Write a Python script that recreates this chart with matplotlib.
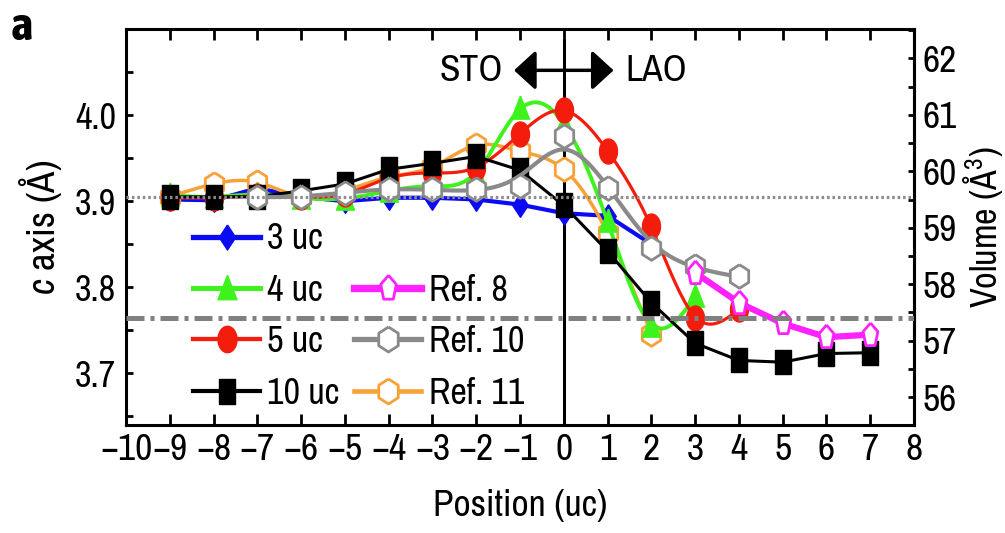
import numpy as np
import matplotlib
matplotlib.use('Agg')
import matplotlib.pyplot as plt
from matplotlib.lines import Line2D
from matplotlib.patches import FancyArrowPatch
from matplotlib.ticker import FormatStrFormatter

plt.rcParams['font.family'] = ['Archivo Narrow', 'Liberation Sans', 'DejaVu Sans']
plt.rcParams['mathtext.fontset'] = 'custom'
plt.rcParams['mathtext.rm'] = 'Archivo Narrow'
plt.rcParams['mathtext.it'] = 'Archivo Narrow:italic'

# c-axis lattice parameter (Angstrom) against position across the interface
x_3uc = [-9, -8, -7, -6, -5, -4, -3, -2, -1, 0, 1, 2]
c_3uc = [3.902, 3.901, 3.915, 3.905, 3.900, 3.904, 3.904, 3.902, 3.896, 3.886, 3.883, 3.850]

x_4uc = [-9, -8, -7, -6, -5, -4, -3, -2, -1, 0, 1, 2, 3]
c_4uc = [3.907, 3.905, 3.908, 3.904, 3.903, 3.912, 3.918, 3.932, 4.008, 3.990, 3.877, 3.755, 3.790]

x_5uc = [-9, -8, -7, -6, -5, -4, -3, -2, -1, 0, 1, 2, 3, 4]
c_5uc = [3.904, 3.904, 3.906, 3.905, 3.908, 3.927, 3.933, 3.939, 3.978, 4.006, 3.958, 3.871, 3.764, 3.775]

x_10uc = [-9, -8, -7, -6, -5, -4, -3, -2, -1, 0, 1, 2, 3, 4, 5, 6, 7]
c_10uc = [3.905, 3.905, 3.905, 3.912, 3.920, 3.937, 3.944, 3.952, 3.936, 3.895, 3.842, 3.782,
          3.735, 3.715, 3.713, 3.723, 3.724]

x_ref8 = [3, 4, 5, 6, 7]
c_ref8 = [3.817, 3.782, 3.758, 3.742, 3.745]

x_ref10 = [-7, -6, -5, -4, -3, -2, -1, 0, 1, 2, 3, 4]
c_ref10 = [3.905, 3.905, 3.910, 3.914, 3.914, 3.914, 3.918, 3.976, 3.915, 3.846, 3.825, 3.813]

x_ref11 = [-9, -8, -7, -6, -5, -4, -3, -2, -1, 0, 1, 2]
c_ref11 = [3.905, 3.920, 3.922, 3.905, 3.912, 3.928, 3.940, 3.965, 3.958, 3.937, 3.863, 3.746]

c_sto = 3.905      # bulk STO
c_lao = 3.764      # strained LAO
a_sub = 3.905      # in-plane lattice parameter for the volume axis


def fitted_curve(x, y, lam, step=0.05):
    # discrete smoothing spline (second-difference penalty) on a fine grid
    x = np.asarray(x, float)
    y = np.asarray(y, float)
    xs = np.arange(x[0], x[-1] + step / 2, step)
    n = len(xs)
    idx = np.rint((x - x[0]) / step).astype(int)
    w = np.zeros(n)
    w[idx] = 1.0
    wy = np.zeros(n)
    wy[idx] = y
    D = np.diff(np.eye(n), 2, axis=0) / step ** 2
    zs = np.linalg.solve(np.diag(w) + lam * step * D.T @ D, wy)
    return xs, zs


# markers are taller than wide
t = np.linspace(0, 2 * np.pi, 41)
m_circle = list(zip(0.72 * np.cos(t), np.sin(t)))
m_square = [(-0.66, -1), (0.66, -1), (0.66, 1), (-0.66, 1), (-0.66, -1)]
m_diamond = [(0, 1), (0.66, 0), (0, -1), (-0.66, 0), (0, 1)]
m_triangle = [(0, 1), (0.72, -0.85), (-0.72, -0.85), (0, 1)]
a6 = np.deg2rad(90 + 60 * np.arange(7))
m_hexagon = list(zip(0.9 * np.cos(a6), np.sin(a6)))
a5 = np.deg2rad(90 + 72 * np.arange(6))
m_pentagon = list(zip(0.62 * np.cos(a5), np.sin(a5)))

blue = '#0a0af5'
green = '#3ef21c'
red = '#f41c0c'
magenta = '#ff22ff'
gray = '#8a8a8a'
orange = '#f7a136'

fig = plt.figure(figsize=(10.05, 5.33), dpi=100)
ax = fig.add_axes([0.1254, 0.2026, 0.9095 - 0.1254, 0.9456 - 0.2026])

series = [
    # x, c, colour, lw, marker, size, face, smoothing (None = straight), zorder
    (x_3uc, c_3uc, blue, 3.0, m_diamond, 17, blue, None, 3),
    (x_ref11, c_ref11, orange, 2.5, m_hexagon, 17, 'white', 1e-5, 4),
    (x_4uc, c_4uc, green, 2.8, m_triangle, 18, green, 0.004, 5),
    (x_5uc, c_5uc, red, 2.3, m_circle, 18, red, 0.004, 6),
    (x_10uc, c_10uc, 'black', 2.2, m_square, 17, 'black', None, 7),
    (x_ref10, c_ref10, gray, 3.0, m_hexagon, 17, 'white', 0.06, 8),
    (x_ref8, c_ref8, magenta, 4.5, m_pentagon, 18, 'white', None, 9),
]
handles = []
for xv, cv, col, lw, mk, ms, face, lam, z in series:
    if lam is None:
        ax.plot(xv, cv, color=col, lw=lw, zorder=z)
    else:
        xs, cs = fitted_curve(xv, cv, lam)
        ax.plot(xs, cs, color=col, lw=lw, zorder=z)
    ew = 1.0 if face != 'white' else 2.0
    ax.plot(xv, cv, linestyle='none', marker=mk, markersize=ms, markerfacecolor=face,
            markeredgecolor=col, markeredgewidth=ew, zorder=z + 0.5)
    handles.append(Line2D([], [], color=col, lw=lw + 0.8, marker=mk, markersize=ms + 1,
                          markerfacecolor=face, markeredgecolor=col, markeredgewidth=ew))

h3, h11, h4, h5, h10, h10r, h8 = handles
blank = Line2D([], [], linestyle='none')
ax.legend([h3, h4, h5, h10, blank, h8, h10r, h11],
          ['3 uc', '4 uc', '5 uc', '10 uc', ' ', 'Ref. 8', 'Ref. 10', 'Ref. 11'],
          ncol=2, loc='upper left', bbox_to_anchor=(0.085, 0.512), frameon=False,
          fontsize=26, handlelength=1.86, handletextpad=0.2, columnspacing=0.4,
          labelspacing=0.51, borderpad=0, borderaxespad=0, numpoints=1)

# reference levels and the interface
ax.axhline(c_sto, color='#8c8c8c', lw=2.3, linestyle=(0, (0.8, 0.9)), zorder=12)
ax.axhline(c_lao, color='#808080', lw=3.6, linestyle=(0, (3.6, 1.2, 0.8, 1.2)), zorder=12)
ax.plot([0, 0], [3.64, 4.087], color='black', lw=2.2, zorder=2)

ax.add_patch(FancyArrowPatch((-1.2, 4.052), (1.2, 4.052),
                             arrowstyle='<|-|>,head_length=0.6,head_width=0.55',
                             mutation_scale=22, lw=2.5, color='black', zorder=10))
ax.text(-1.4, 4.052, 'STO', fontsize=27, ha='right', va='center')
ax.text(1.4, 4.052, 'LAO', fontsize=27, ha='left', va='center')

ax.set_xlim(-10, 8)
ax.set_ylim(3.64, 4.10)
ax.set_xticks(np.arange(-10, 9))
ax.set_yticks([3.7, 3.8, 3.9, 4.0])
ax.set_yticks([3.65, 3.75, 3.85, 3.95, 4.05], minor=True)
ax.yaxis.set_major_formatter(FormatStrFormatter('%.1f'))
ax.tick_params(axis='x', direction='in', length=8, width=2, top=True, labelsize=27, pad=6)
ax.tick_params(axis='y', which='both', direction='in', length=5, width=2, right=False,
               labelsize=26, pad=7)
for sp in ax.spines.values():
    sp.set_linewidth(2.2)

sec = ax.secondary_yaxis('right', functions=(lambda c: c * a_sub ** 2,
                                             lambda v: v / a_sub ** 2))
sec.set_yticks(np.arange(56, 63))
sec.set_yticks(np.arange(55.5, 62.6, 0.5), minor=True)
sec.tick_params(which='both', direction='in', length=4, width=2, labelsize=27, pad=6)
sec.spines['right'].set_linewidth(2.2)
sec.set_ylabel('Volume (Å$^3$)', fontsize=26, labelpad=3)

ax.set_xlabel('Position (uc)', fontsize=27, labelpad=16)
ax.set_ylabel('$c$ axis (Å)', fontsize=28, labelpad=8)

fig.text(0.011, 0.925, 'a', fontsize=34, fontweight='bold', va='baseline',
         family=['Asap Condensed', 'Liberation Sans', 'DejaVu Sans'])

fig.savefig('out.png', dpi=100)
